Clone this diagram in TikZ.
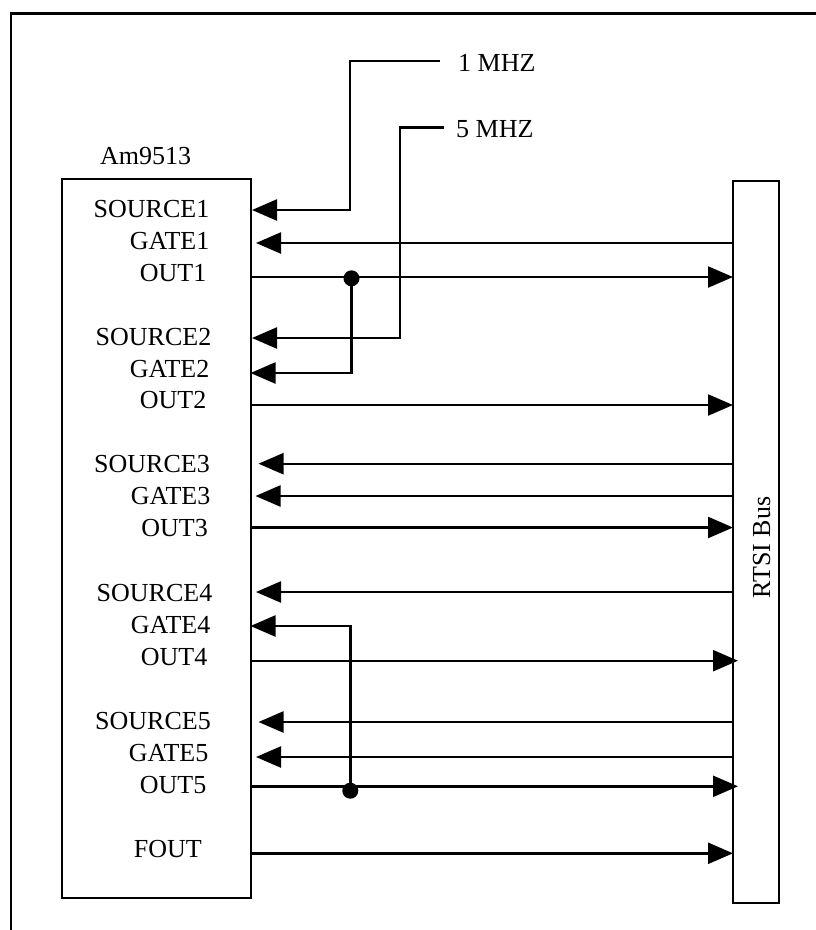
\documentclass[tikz,border=0pt]{standalone}
\usepackage{fontspec}
\setmainfont{Liberation Serif}
\usetikzlibrary{arrows.meta}
\tikzset{
  x=1pt,y=-1pt,
  wire/.style={line width=2.4pt,line join=miter},
  frameline/.style={line width=2.6pt},
  box/.style={draw,line width=2.3pt,inner sep=0pt,outer sep=0pt,minimum width=#1,anchor=north west},
  pin/.style={font=\fontsize{26}{30}\selectfont,anchor=base east,inner sep=0pt},
  lab/.style={font=\fontsize{26}{30}\selectfont,anchor=base west,inner sep=0pt},
  tip/.style={-{Triangle[length=25pt,width=21pt]}},
  junction/.style={circle,fill=black,inner sep=0pt,minimum size=16pt},
}
\begin{document}
\begin{tikzpicture}
\useasboundingbox (0,0) rectangle (816,930);
\coordinate (fa) at (11,930);
\coordinate (fb) at (11,13.4);
\coordinate (fc) at (816,13.4);
\draw[frameline] (fa) -- (fb) -- (fc);
\node[box=189pt,minimum height=719.3pt] (chip) at (61.7,179) {};
\node[box=46pt,minimum height=722pt] (bus) at (733.3,181.3) {};
\node[lab] (chipname) at (100,164) {Am9513};
\node[lab,rotate=90] (busname) at (770,598.5) {RTSI Bus};
\node[lab] (mhza) at (458,71) {1 MHZ};
\node[lab] (mhzb) at (456,137) {5 MHZ};
\coordinate (mhzaend) at (440,61);
\coordinate (mhzbend) at (444,127.5);
\node[pin] (ps1) at (209.5,217) {SOURCE1};
\node[pin] (pg1) at (209.5,249) {GATE1};
\node[pin] (po1) at (206.5,281) {OUT1};
\node[pin] (ps2) at (211.5,345) {SOURCE2};
\node[pin] (pg2) at (209.5,377) {GATE2};
\node[pin] (po2) at (206.5,408.5) {OUT2};
\node[pin] (ps3) at (210,472.5) {SOURCE3};
\node[pin] (pg3) at (210.5,504) {GATE3};
\node[pin] (po3) at (208,536.5) {OUT3};
\node[pin] (ps4) at (212.5,601) {SOURCE4};
\node[pin] (pg4) at (210.5,633) {GATE4};
\node[pin] (po4) at (207.5,665) {OUT4};
\node[pin] (ps5) at (211,729) {SOURCE5};
\node[pin] (pg5) at (208.5,761) {GATE5};
\node[pin] (po5) at (206.5,793) {OUT5};
\node[pin] (pf) at (202,857) {FOUT};
\node[junction] (ja) at (351.5,278.3) {};
\node[junction] (jb) at (350.3,790.7) {};
% inputs from the bus
\foreach \n/\y/\t in {g1/243/256,s3/463.7/258.5,g3/496/255.5,s4/592/256,s5/722/258.5,g5/757/256}{
  \coordinate (t\n) at (\t,\y);
  \coordinate (b\n) at (733.3,\y);
  \draw[wire,tip] (b\n) -- (t\n);
}
% outputs to the bus
\foreach \n/\y/\t in {o1/277/733,o2/405/733,o3/527.5/733,o4/660.7/738,o5/786.3/738,f/853.3/733}{
  \coordinate (c\n) at (250.7,\y);
  \coordinate (b\n) at (\t,\y);
  \draw[wire,tip] (c\n) -- (b\n);
}
% clock and cross connections
\coordinate (ts1) at (252,210);
\coordinate (ts2) at (252,338);
\coordinate (tg2) at (250.5,373);
\coordinate (tg4) at (250.5,626);
\draw[wire,tip] (mhzaend) -- (349.7,61) -- (349.7,210) -- (ts1);
\draw[wire,tip] (mhzbend) -- (400,127.5) -- (400,338) -- (ts2);
\draw[wire,tip] (ja.center) |- (tg2);
\draw[wire,tip] (jb.center) |- (tg4);
\end{tikzpicture}
\end{document}
